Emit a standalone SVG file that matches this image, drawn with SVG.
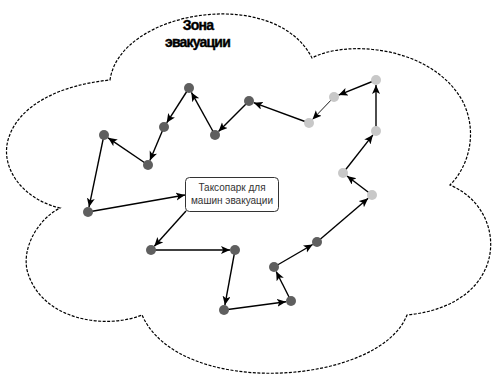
<svg xmlns="http://www.w3.org/2000/svg" width="492" height="376" viewBox="0 0 492 376">
<style>
.cloud{fill:none;stroke:#000;stroke-width:1.2;stroke-dasharray:3,1.5}
.e{stroke:#000;stroke-width:1.4;fill:none;marker-end:url(#ar)}
.thin{stroke-width:0.9}
.d{fill:#5f5f5f}
.l{fill:#c8c8c8}
.title{font-family:"Liberation Sans",Arial,sans-serif;font-weight:bold;font-size:14px;letter-spacing:-0.8px;text-anchor:middle;fill:#000;stroke:#000;stroke-width:0.4}
.bt{font-family:"Liberation Sans",Arial,sans-serif;font-size:10px;text-anchor:middle;fill:#333}
</style>
<defs>
<marker id="ar" markerUnits="userSpaceOnUse" markerWidth="11" markerHeight="9" refX="9" refY="4" orient="auto">
<path d="M0,0 L9,4 L0,8 L2.2,4 Z" fill="#000"/>
</marker>
</defs>
<path class="cloud" d="M110,80 C120,10 275,-15 312,58 C345,40 430,45 462,100 C478,130 470,165 450,185 C510,210 510,305 407,315 C380,385 180,400 142,315 C105,330 40,320 27,270 C22,245 40,218 60,208 C25,200 0,170 8,140 C18,105 60,85 110,80 Z"/>
<g id="title">
<text class="title" x="198" y="30">Зона</text>
<text class="title" x="197.5" y="47">эвакуации</text>
</g>
<g id="connectors">
<line class="e" x1="189" y1="88" x2="166.7" y2="122.8"/>
<line class="e" x1="164" y1="127" x2="149.9" y2="160.4"/>
<line class="e" x1="148" y1="165" x2="108.1" y2="137.8"/>
<line class="e" x1="215" y1="135" x2="191.4" y2="92.4"/>
<line class="e" x1="249" y1="101" x2="218.5" y2="131.5"/>
<line class="e" x1="309" y1="123" x2="253.7" y2="102.7"/>
<line class="e thin" x1="334" y1="97" x2="312.5" y2="119.4"/>
<line class="e" x1="376" y1="80" x2="338.6" y2="95.1"/>
<line class="e" x1="376" y1="131" x2="376" y2="85"/>
<line class="e" x1="343" y1="173" x2="372.9" y2="134.9"/>
<line class="e" x1="372" y1="195" x2="347" y2="176"/>
<line class="e" x1="317" y1="242" x2="368.2" y2="198.3"/>
<line class="e" x1="274" y1="267" x2="312.7" y2="244.5"/>
<line class="e" x1="291" y1="301" x2="276.2" y2="271.5"/>
<line class="e" x1="224" y1="310" x2="286" y2="301.7"/>
<line class="e" x1="235" y1="250" x2="224.9" y2="305.1"/>
<line class="e" x1="151" y1="250" x2="230" y2="250"/>
<line class="e" x1="186" y1="211" x2="154.3" y2="246.3"/>
<line class="e" x1="88" y1="212" x2="185" y2="195"/>
<line class="e" x1="104" y1="135" x2="89" y2="207.1"/>
</g>
<g id="nA"><circle class="d" cx="189" cy="88" r="5"/></g>
<g id="nB"><circle class="d" cx="164" cy="127" r="5"/></g>
<g id="nC"><circle class="d" cx="148" cy="165" r="5"/></g>
<g id="nD"><circle class="d" cx="104" cy="135" r="5"/></g>
<g id="nE"><circle class="d" cx="215" cy="135" r="5"/></g>
<g id="nF"><circle class="d" cx="249" cy="101" r="5"/></g>
<g id="nG"><circle class="l" cx="309" cy="123" r="5"/></g>
<g id="nH"><circle class="l" cx="334" cy="97" r="5"/></g>
<g id="nI"><circle class="l" cx="376" cy="80" r="5"/></g>
<g id="nJ"><circle class="l" cx="376" cy="131" r="5"/></g>
<g id="nK"><circle class="l" cx="343" cy="173" r="5"/></g>
<g id="nL"><circle class="l" cx="372" cy="195" r="5"/></g>
<g id="nM"><circle class="d" cx="317" cy="242" r="5"/></g>
<g id="nN"><circle class="d" cx="274" cy="267" r="5"/></g>
<g id="nO"><circle class="d" cx="291" cy="301" r="5"/></g>
<g id="nS"><circle class="d" cx="224" cy="310" r="5"/></g>
<g id="nR"><circle class="d" cx="235" cy="250" r="5"/></g>
<g id="nQ"><circle class="d" cx="151" cy="250" r="5"/></g>
<g id="nP"><circle class="d" cx="88" cy="212" r="5"/></g>
<g id="box">
<rect x="185.5" y="177.5" width="93" height="34" rx="4" fill="#fff" stroke="#333" stroke-width="1"/>
<text class="bt" x="232" y="191">Таксопарк для</text>
<text class="bt" x="232" y="204">машин эвакуации</text>
</g>
</svg>
